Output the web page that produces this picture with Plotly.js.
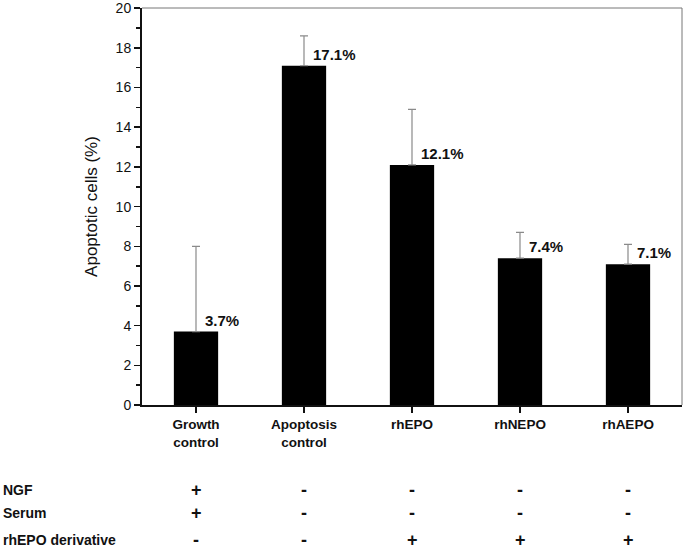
<!DOCTYPE html>
<html>
<head>
<meta charset="utf-8">
<script src="https://cdn.plot.ly/plotly-3.0.1.min.js"></script>
<style>html,body{margin:0;padding:0;background:#fff;}#chart{width:685px;height:549px;}</style>
</head>
<body>
<div id="chart"></div>
<script>
var categories = ["Growth<br>control", "Apoptosis<br>control", "rhEPO", "rhNEPO", "rhAEPO"];
var values = [3.7, 17.1, 12.1, 7.4, 7.1];
var errorsUp = [4.3, 1.5, 2.8, 1.3, 1.0];
var yTicks = [0, 2, 4, 6, 8, 10, 12, 14, 16, 18, 20];
var rowLabels = ["NGF", "Serum", "rhEPO derivative"];
var rowNGF = ["+", "-", "-", "-", "-"];
var rowSerum = ["+", "-", "-", "-", "-"];
var rowDeriv = ["-", "-", "+", "+", "+"];
var yTitle = "Apoptotic cells (%)";

var xs = categories.map(function(_, i){ return i; });
var FONT = "Liberation Sans, Arial, sans-serif";

var trace = {
  type: "bar",
  x: xs,
  y: values,
  width: 0.41,
  marker: {color: "#000000", line: {width: 0}},
  error_y: {
    type: "data", array: errorsUp, symmetric: false,
    arrayminus: values.map(function(){ return 0; }),
    color: "#8a8a8a", thickness: 1.2, width: 4
  },
  hoverinfo: "none"
};

var annotations = [];
values.forEach(function(v, i){
  annotations.push({
    x: i, y: v, xref: "x", yref: "y",
    text: "<b>" + v.toFixed(1) + "%</b>",
    showarrow: false, xanchor: "left", yanchor: "bottom",
    xshift: 7, yshift: 1,
    font: {family: FONT, size: 15, color: "#111"}
  });
});
var rows = [rowNGF, rowSerum, rowDeriv];
var rowY = [-0.214, -0.272, -0.340];
rows.forEach(function(r, k){
  annotations.push({
    x: -0.261, y: rowY[k], xref: "paper", yref: "paper",
    text: "<b>" + rowLabels[k] + "</b>", showarrow: false,
    xanchor: "left", yanchor: "middle",
    font: {family: FONT, size: 14, color: "#111"}
  });
  r.forEach(function(s, i){
    annotations.push({
      x: i, y: rowY[k], xref: "x", yref: "paper",
      text: "<b>" + s + "</b>", showarrow: false,
      xanchor: "center", yanchor: "middle",
      font: {family: FONT, size: 18, color: "#111"}
    });
  });
});

var layout = {
  width: 685, height: 549,
  margin: {l: 142, r: 3, t: 8, b: 144},
  paper_bgcolor: "#fff", plot_bgcolor: "#fff",
  showlegend: false,
  xaxis: {
    range: [-0.5, 4.5],
    tickmode: "array", tickvals: xs,
    ticktext: categories.map(function(c){ return "<b>" + c + "</b>"; }),
    ticks: "outside", ticklen: 6, tickwidth: 1.5, tickcolor: "#111",
    showline: true, linecolor: "#111", linewidth: 2,
    showgrid: false, zeroline: false,
    tickfont: {family: FONT, size: 13.5, color: "#111"},
    fixedrange: true
  },
  yaxis: {
    range: [0, 20.01],
    tickmode: "array", tickvals: yTicks, ticktext: yTicks.map(String),
    ticks: "outside", ticklen: 6, tickwidth: 1.5, tickcolor: "#111",
    ticklabeloverflow: "allow",
    minor: {dtick: 1, tick0: 0, ticks: "outside", ticklen: 4, tickwidth: 1.5, tickcolor: "#111", showgrid: false},
    showline: true, linecolor: "#111", linewidth: 2,
    showgrid: false, zeroline: false,
    tickfont: {family: FONT, size: 14, color: "#111"},
    title: {text: yTitle, font: {family: FONT, size: 17, color: "#111"}, standoff: 14},
    fixedrange: true
  },
  shapes: [
    {type: "line", xref: "paper", yref: "paper", x0: 0, x1: 1, y0: 1, y1: 1, line: {color: "#777", width: 1}},
    {type: "line", xref: "paper", yref: "paper", x0: 1, x1: 1, y0: 0, y1: 1, line: {color: "#777", width: 1}}
  ],
  annotations: annotations
};

Plotly.newPlot("chart", [trace], layout, {displayModeBar: false, staticPlot: true});
</script>
</body>
</html>
